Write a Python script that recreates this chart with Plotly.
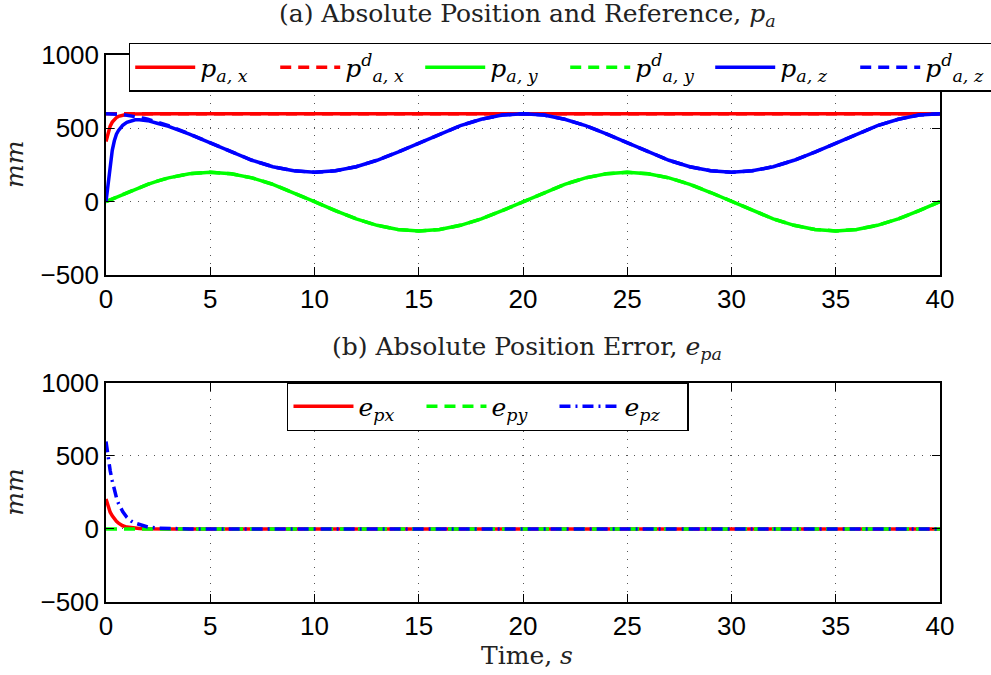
import plotly.graph_objects as go
from plotly.subplots import make_subplots

# ---- data ----
time = [0, 0.1, 0.2, 0.3, 0.4, 0.5, 0.6, 0.8, 1.0, 1.2, 1.4, 1.6, 1.8, 2.0, 2.5, 3,
        4, 5, 6, 7, 8, 9, 10, 11, 12, 13, 14, 15, 16, 17, 18, 19, 20,
        21, 22, 23, 24, 25, 26, 27, 28, 29, 30, 31, 32, 33, 34, 35, 36, 37, 38, 39, 40]

p_ax = [410, 465, 515, 542, 560, 573, 581, 591, 596, 598, 599, 600, 600, 600, 600, 600,
        600, 600, 600, 600, 600, 600, 600, 600, 600, 600, 600, 600, 600, 600, 600, 600, 600,
        600, 600, 600, 600, 600, 600, 600, 600, 600, 600, 600, 600, 600, 600, 600, 600, 600, 600, 600, 600]
p_ax_d = [600, 600, 600, 600, 600, 600, 600, 600, 600, 600, 600, 600, 600, 600, 600, 600,
          600, 600, 600, 600, 600, 600, 600, 600, 600, 600, 600, 600, 600, 600, 600, 600, 600,
          600, 600, 600, 600, 600, 600, 600, 600, 600, 600, 600, 600, 600, 600, 600, 600, 600, 600, 600, 600]
p_ay = [0, 6, 13, 19, 25, 31, 38, 50, 62, 74, 85, 96, 107, 118, 141, 162,
        190, 200, 190, 162, 118, 62, 0, -62, -118, -162, -190, -200, -190, -162, -118, -62, 0,
        62, 118, 162, 190, 200, 190, 162, 118, 62, 0, -62, -118, -162, -190, -200, -190, -162, -118, -62, 0]
p_ay_d = [0, 6, 13, 19, 25, 31, 38, 50, 62, 74, 85, 96, 107, 118, 141, 162,
          190, 200, 190, 162, 118, 62, 0, -62, -118, -162, -190, -200, -190, -162, -118, -62, 0,
          62, 118, 162, 190, 200, 190, 162, 118, 62, 0, -62, -118, -162, -190, -200, -190, -162, -118, -62, 0]
p_az = [0, 130, 270, 350, 415, 460, 485, 520, 540, 552, 558, 559, 558, 552, 533, 513,
        460, 400, 338, 282, 238, 210, 200, 210, 238, 282, 338, 400, 462, 518, 562, 590, 600,
        590, 562, 518, 462, 400, 338, 282, 238, 210, 200, 210, 238, 282, 338, 400, 462, 518, 562, 590, 600]
p_az_d = [600, 600, 600, 599, 598, 598, 596, 594, 590, 586, 581, 575, 569, 562, 541, 518,
          462, 400, 338, 282, 238, 210, 200, 210, 238, 282, 338, 400, 462, 518, 562, 590, 600,
          590, 562, 518, 462, 400, 338, 282, 238, 210, 200, 210, 238, 282, 338, 400, 462, 518, 562, 590, 600]

e_px = [205, 155, 115, 90, 68, 52, 40, 22, 13, 8, 5, 3, 2, 1, 0, 0,
        0, 0, 0, 0, 0, 0, 0, 0, 0, 0, 0, 0, 0, 0, 0, 0, 0,
        0, 0, 0, 0, 0, 0, 0, 0, 0, 0, 0, 0, 0, 0, 0, 0, 0, 0, 0, 0]
e_py = [0, 0, 0, 0, 0, 0, 0, 0, 0, 0, 0, 0, 0, 0, 0, 0,
        0, 0, 0, 0, 0, 0, 0, 0, 0, 0, 0, 0, 0, 0, 0, 0, 0,
        0, 0, 0, 0, 0, 0, 0, 0, 0, 0, 0, 0, 0, 0, 0, 0, 0, 0, 0, 0]
e_pz = [600, 480, 400, 330, 265, 215, 175, 120, 80, 55, 40, 30, 20, 14, 6, 2,
        0, 0, 0, 0, 0, 0, 0, 0, 0, 0, 0, 0, 0, 0, 0, 0, 0,
        0, 0, 0, 0, 0, 0, 0, 0, 0, 0, 0, 0, 0, 0, 0, 0, 0, 0, 0, 0]

x_ticks = [0, 5, 10, 15, 20, 25, 30, 35, 40]
y_ticks = [-500, 0, 500, 1000]

RED, GREEN, BLUE = "#ff0000", "#00ff00", "#0000ff"
DASH = "11px,7px"
DASHDOT = "11px,5px,2px,5px"
SERIF = "DejaVu Serif, Liberation Serif, serif"
SANS = "Liberation Sans, Arial, sans-serif"

fig = make_subplots(rows=2, cols=1, vertical_spacing=0.0)

top = [
    (p_ax, RED, "solid", "<i>p</i><sub><i>a, x</i></sub>"),
    (p_ax_d, RED, DASH, "<i>p</i><sup><i>d</i></sup><sub><i>a, x</i></sub>"),
    (p_ay, GREEN, "solid", "<i>p</i><sub><i>a, y</i></sub>"),
    (p_ay_d, GREEN, DASH, "<i>p</i><sup><i>d</i></sup><sub><i>a, y</i></sub>"),
    (p_az, BLUE, "solid", "<i>p</i><sub><i>a, z</i></sub>"),
    (p_az_d, BLUE, DASH, "<i>p</i><sup><i>d</i></sup><sub><i>a, z</i></sub>"),
]
for ys, c, d, name in top:
    fig.add_trace(go.Scatter(x=time, y=ys, mode="lines", name=name,
                             line=dict(color=c, width=3.5, dash=d),
                             legend="legend"), row=1, col=1)

bottom = [
    (e_px, RED, "solid", "<i>e</i><sub><i>px</i></sub>"),
    (e_py, GREEN, DASH, "<i>e</i><sub><i>py</i></sub>"),
    (e_pz, BLUE, DASHDOT, "<i>e</i><sub><i>pz</i></sub>"),
]
for ys, c, d, name in bottom:
    fig.add_trace(go.Scatter(x=time, y=ys, mode="lines", name=name,
                             line=dict(color=c, width=3.5, dash=d),
                             legend="legend2"), row=2, col=1)

axis_common = dict(showline=True, linecolor="black", linewidth=1.5, mirror="ticks",
                   ticks="inside", ticklen=8, tickwidth=1, tickcolor="black",
                   showgrid=True, gridcolor="#555555", gridwidth=1, griddash="1px,7px",
                   zeroline=False, tickfont=dict(family=SANS, size=26, color="black"))

for r in (1, 2):
    fig.update_xaxes(range=[0, 40], tickvals=x_ticks, ticktext=[str(v) for v in x_ticks],
                     row=r, col=1, **axis_common)
    fig.update_yaxes(range=[-500, 1000], tickvals=y_ticks,
                     ticktext=["\u2212500", "0", "500", "1000"], row=r, col=1, **axis_common)

# domains to match reference layout
fig.update_layout(yaxis=dict(domain=[0.598, 1.0]), yaxis2=dict(domain=[0.0, 0.4004]),
                  xaxis=dict(anchor="y"), xaxis2=dict(anchor="y2"))

legend_font = dict(family=SERIF, size=25, color="black")
fig.update_layout(
    width=991, height=675,
    margin=dict(l=106, r=51, t=55, b=73, autoexpand=False),
    paper_bgcolor="white", plot_bgcolor="white",
    showlegend=True,
    legend=dict(x=1.074, y=1.022, xanchor="right", yanchor="top", orientation="h",
                bgcolor="white", bordercolor="black", borderwidth=1.5,
                font=legend_font, itemwidth=60, entrywidth=70, entrywidthmode="pixels",
                tracegroupgap=0),
    legend2=dict(x=0.217, y=0.402, xanchor="left", yanchor="top", orientation="h",
                 bgcolor="white", bordercolor="black", borderwidth=1.5,
                 font=legend_font, itemwidth=60, entrywidth=58, entrywidthmode="pixels"),
    annotations=[
        dict(text="(a) Absolute Position and Reference, <i>p<sub>a</sub></i>",
             xref="paper", yref="paper", x=0.505, y=1.073, xanchor="center", yanchor="middle",
             showarrow=False, font=dict(family=SERIF, size=25, color="#222222")),
        dict(text="(b) Absolute Position Error, <i>e<sub>pa</sub></i>",
             xref="paper", yref="paper", x=0.505, y=0.4643, xanchor="center", yanchor="middle",
             showarrow=False, font=dict(family=SERIF, size=25, color="#222222")),
        dict(text="Time, <i>s</i>",
             xref="paper", yref="paper", x=0.505, y=-0.097, xanchor="center", yanchor="middle",
             showarrow=False, font=dict(family=SERIF, size=25, color="#222222")),
        dict(text="<i>mm</i>", textangle=-90,
             xref="paper", yref="paper", x=-0.109, y=0.799, xanchor="center", yanchor="middle",
             showarrow=False, font=dict(family=SERIF, size=25, color="#222222")),
        dict(text="<i>mm</i>", textangle=-90,
             xref="paper", yref="paper", x=-0.109, y=0.2, xanchor="center", yanchor="middle",
             showarrow=False, font=dict(family=SERIF, size=25, color="#222222")),
    ],
)

fig.write_html("out.html")
